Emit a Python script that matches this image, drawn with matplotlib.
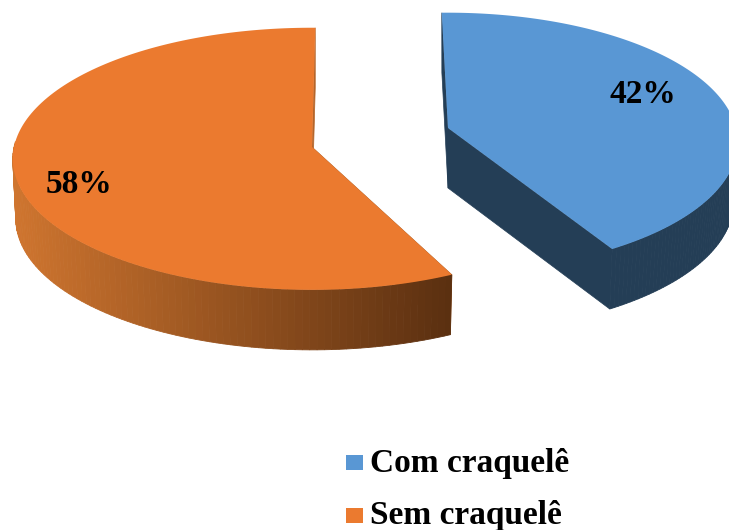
import numpy as np
import matplotlib
matplotlib.use('Agg')
import matplotlib.pyplot as plt
from matplotlib.patches import Rectangle
from matplotlib.colors import to_rgb

categories = ['Com craquelê', 'Sem craquelê']
values = [42, 58]
top_colors = ['#5997d4', '#eb7a2f']

plt.rcParams['font.family'] = ['Liberation Serif', 'DejaVu Serif']

fig = plt.figure(figsize=(7.29, 5.30), dpi=100)
ax = fig.add_axes([0, 0, 1, 1])
ax.set_xlim(0, 729)
ax.set_ylim(530, 0)
ax.axis('off')

DEPTH = 60


def project(theta, cx, cy, rx, ry, p):
    # theta runs clockwise from the top of the pie, far side is squeezed a bit
    ux = np.sin(theta)
    uy = np.cos(theta)
    w = 1 + p * uy
    return cx + rx * ux / w, cy - ry * uy / w


def draw_slice(start, stop, cx, cy, rx, ry, p, shrink, wall, side_left, side_right):
    th = np.linspace(start, stop, 160)
    x, y = project(th, cx, cy, rx, ry, p)
    x2 = cx + (x - cx) * shrink
    y2 = y + DEPTH

    # walls of both cuts
    for k in [0, -1]:
        ax.fill([x[k], cx, cx, x2[k]], [y[k], cy, cy + DEPTH, y2[k]],
                color=wall, lw=0.5, zorder=1)

    # rim, split up so the shading can run from left to right
    c0, c1 = np.array(to_rgb(side_left)), np.array(to_rgb(side_right))
    x_lo, x_hi = x.min(), x.max()
    for i in range(len(th) - 1):
        if np.cos((th[i] + th[i + 1]) / 2) > 0.05:
            continue
        t = ((x[i] + x[i + 1]) / 2 - x_lo) / (x_hi - x_lo)
        col = c0 + (c1 - c0) * t
        ax.fill([x[i], x[i + 1], x2[i + 1], x2[i]], [y[i], y[i + 1], y2[i + 1], y2[i]],
                color=col, lw=0.6, zorder=2)
    return x, y


fracs = np.array(values) / sum(values)
cut = 2 * np.pi * fracs[0]

# blue slice, pulled to the right and running off the edge
x, y = draw_slice(-0.024, cut - 0.04, 448, 128, 288, 128, 0.11, 0.985,
                  '#243e56', '#243e56', '#243e56')
ax.fill(np.r_[448, x], np.r_[128, y], color=top_colors[0], lw=0, zorder=4)

# orange slice
x, y = draw_slice(cut + 0.057, 2 * np.pi + 0.012, 312, 147, 298, 130, 0.09, 0.99,
                  '#b5652a', '#cf752f', '#5a2f10')
ax.fill(np.r_[312, x], np.r_[147, y], color=top_colors[1], lw=0, zorder=4)

# percentage labels
ax.text(643, 103, '%d%%' % values[0], fontsize=24, fontweight='bold', ha='center', va='baseline', zorder=6)
ax.text(79, 193, '%d%%' % values[1], fontsize=24, fontweight='bold', ha='center', va='baseline', zorder=6)

# legend
for name, col, ys, yb in zip(categories, top_colors, [455, 508], [472, 524]):
    ax.add_patch(Rectangle((346, ys), 17, 15, facecolor=col, edgecolor='none', zorder=6))
    ax.text(370, yb, name, fontsize=24, fontweight='bold', ha='left', va='baseline', zorder=6)

fig.savefig('out.png', dpi=100)
